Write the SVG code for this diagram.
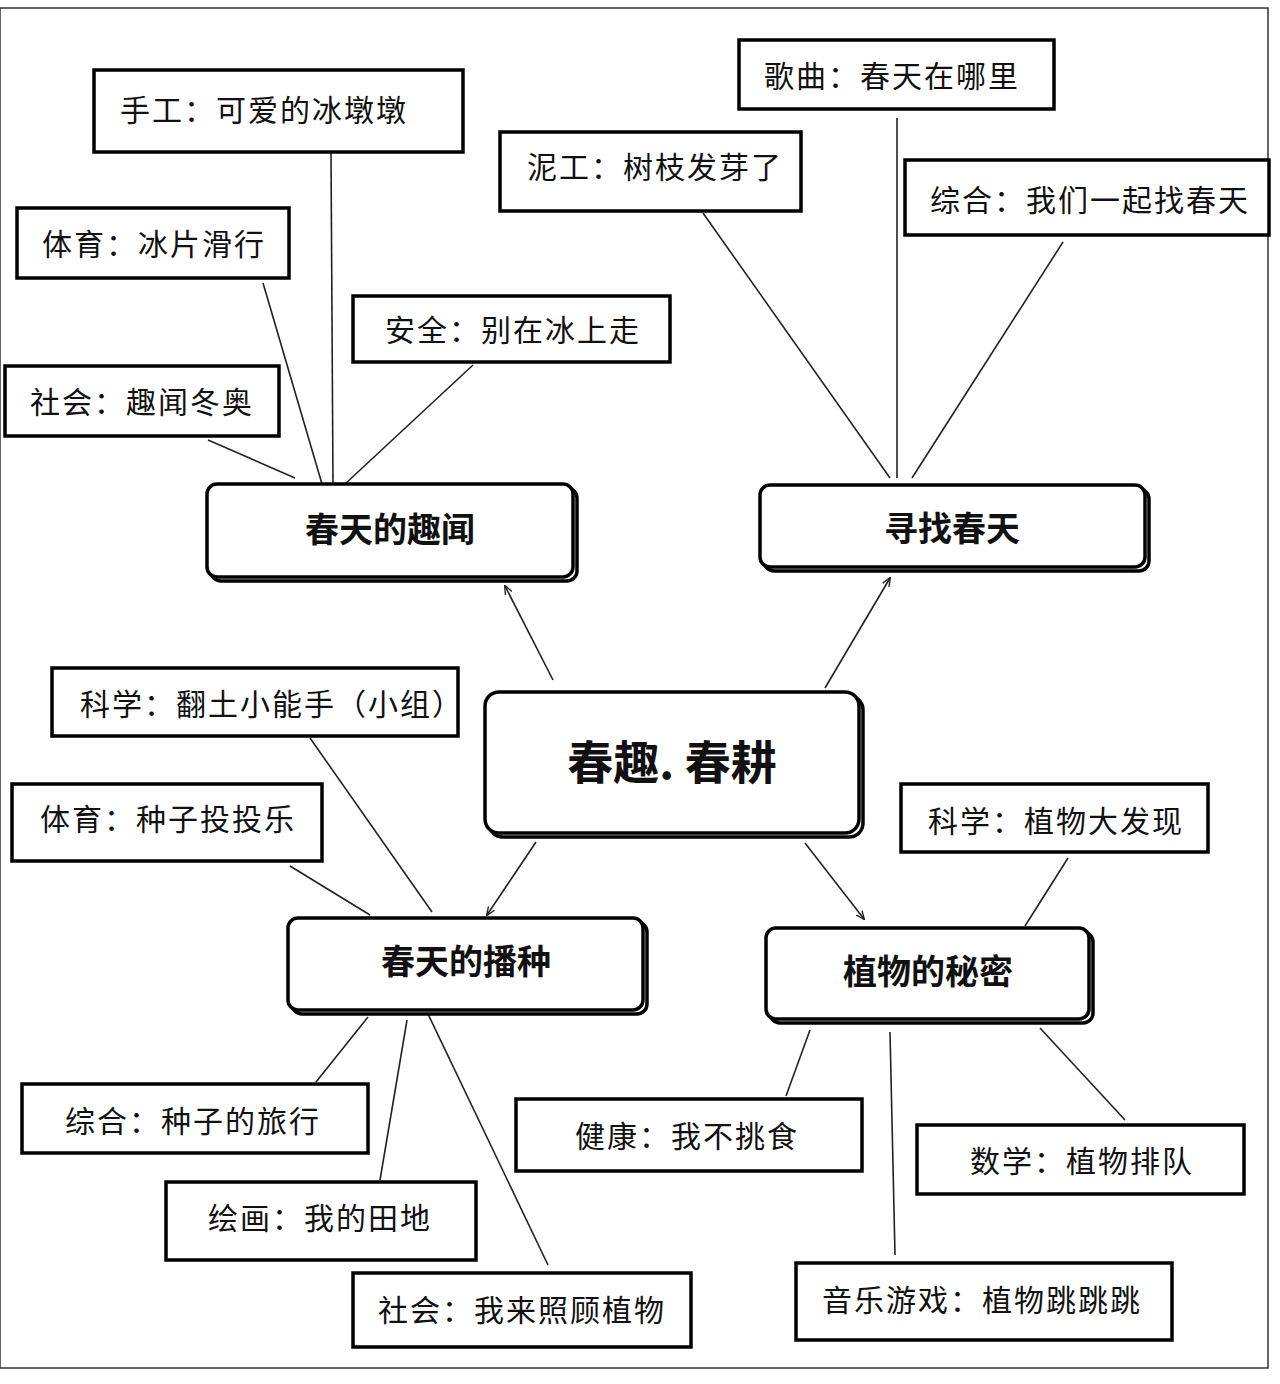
<svg xmlns="http://www.w3.org/2000/svg" width="1280" height="1384" viewBox="0 0 1280 1384">
<defs>
<style>
.leaf rect{fill:#fff;stroke:#000;stroke-width:3.5}
.mid rect{fill:#fff;stroke:#000;stroke-width:3.5}
.sh{fill:#999;stroke:none}
text{font-family:"Noto Sans CJK SC","Noto Sans",sans-serif;fill:#111}
.lt{font-size:30px;letter-spacing:2px}
.mt{font-size:34px;font-weight:bold}
.ct{font-size:46px;font-weight:bold}
#conn line{stroke:#222;stroke-width:1.6}
</style>
<marker id="ar" viewBox="0 0 10 10" refX="9" refY="5" markerWidth="9" markerHeight="9" orient="auto" markerUnits="userSpaceOnUse"><path d="M0,1 L10,5 L0,9" fill="none" stroke="#222" stroke-width="1.5"/></marker>
</defs>
<rect width="1280" height="1384" fill="#fff"/>
<rect x="0" y="8" width="1268" height="1360" fill="none" stroke="#333" stroke-width="1.5"/>
<g id="conn">
<line x1="331" y1="153" x2="333" y2="484"/>
<line x1="263" y1="283" x2="322" y2="484"/>
<line x1="473" y1="365" x2="345" y2="484"/>
<line x1="208" y1="440" x2="295" y2="478"/>
<line x1="897" y1="118" x2="897" y2="478"/>
<line x1="703" y1="213" x2="890" y2="478"/>
<line x1="1063" y1="242" x2="912" y2="478"/>
<line x1="553" y1="680" x2="505" y2="586" marker-end="url(#ar)"/>
<line x1="825" y1="688" x2="890" y2="578" marker-end="url(#ar)"/>
<line x1="536" y1="842" x2="487" y2="915" marker-end="url(#ar)"/>
<line x1="805" y1="843" x2="864" y2="919" marker-end="url(#ar)"/>
<line x1="310" y1="738" x2="432" y2="912"/>
<line x1="290" y1="866" x2="370" y2="915"/>
<line x1="368" y1="1017" x2="316" y2="1082"/>
<line x1="407" y1="1020" x2="380" y2="1180"/>
<line x1="428" y1="1014" x2="548" y2="1265"/>
<line x1="1068" y1="858" x2="1025" y2="926"/>
<line x1="810" y1="1030" x2="786" y2="1096"/>
<line x1="890" y1="1032" x2="895" y2="1255"/>
<line x1="1040" y1="1028" x2="1125" y2="1120"/>
</g>
<g id="n1" class="leaf"><rect x="94" y="70" width="369" height="82"/><text class="lt" x="120" y="121">手工：可爱的冰墩墩</text></g>
<g id="n2" class="leaf"><rect x="17" y="208" width="272" height="70"/><text class="lt" x="42" y="255">体育：冰片滑行</text></g>
<g id="n3" class="leaf"><rect x="353" y="296" width="317" height="66"/><text class="lt" x="385" y="341">安全：别在冰上走</text></g>
<g id="n4" class="leaf"><rect x="5" y="366" width="274" height="70"/><text class="lt" x="30" y="413">社会：趣闻冬奥</text></g>
<g id="n5" class="leaf"><rect x="739" y="40" width="315" height="69"/><text class="lt" x="764" y="87">歌曲：春天在哪里</text></g>
<g id="n6" class="leaf"><rect x="500" y="132" width="301" height="79"/><text class="lt" x="527" y="178">泥工：树枝发芽了</text></g>
<g id="n7" class="leaf"><rect x="905" y="160" width="364" height="75"/><text class="lt" x="930" y="211">综合：我们一起找春天</text></g>
<g id="n8" class="leaf"><rect x="52" y="668" width="406" height="68"/><text class="lt" x="80" y="715">科学：翻土小能手（小组）</text></g>
<g id="n9" class="leaf"><rect x="12" y="784" width="310" height="77"/><text class="lt" x="40" y="830">体育：种子投投乐</text></g>
<g id="n10" class="leaf"><rect x="901" y="784" width="307" height="68"/><text class="lt" x="928" y="832">科学：植物大发现</text></g>
<g id="n11" class="leaf"><rect x="22" y="1084" width="346" height="69"/><text class="lt" x="65" y="1132">综合：种子的旅行</text></g>
<g id="n12" class="leaf"><rect x="166" y="1182" width="310" height="78"/><text class="lt" x="208" y="1229">绘画：我的田地</text></g>
<g id="n13" class="leaf"><rect x="353" y="1273" width="338" height="74"/><text class="lt" x="378" y="1321">社会：我来照顾植物</text></g>
<g id="n14" class="leaf"><rect x="516" y="1099" width="346" height="72"/><text class="lt" x="575" y="1147">健康：我不挑食</text></g>
<g id="n15" class="leaf"><rect x="917" y="1125" width="327" height="69"/><text class="lt" x="970" y="1172">数学：植物排队</text></g>
<g id="n16" class="leaf"><rect x="796" y="1263" width="376" height="77"/><text class="lt" x="822" y="1311">音乐游戏：植物跳跳跳</text></g>
<g id="m1" class="mid"><rect class="sh" x="211" y="488" width="366" height="93" rx="10"/><rect x="207" y="484" width="366" height="93" rx="10"/><text class="mt" x="390" y="542" text-anchor="middle">春天的趣闻</text></g>
<g id="m2" class="mid"><rect class="sh" x="764" y="489" width="385" height="82" rx="10"/><rect x="760" y="485" width="385" height="82" rx="10"/><text class="mt" x="952" y="541" text-anchor="middle">寻找春天</text></g>
<g id="m3" class="mid"><rect class="sh" x="292" y="922" width="355" height="92" rx="10"/><rect x="288" y="918" width="355" height="92" rx="10"/><text class="mt" x="466" y="974" text-anchor="middle">春天的播种</text></g>
<g id="m4" class="mid"><rect class="sh" x="770" y="932" width="323" height="91" rx="10"/><rect x="766" y="928" width="323" height="91" rx="10"/><text class="mt" x="928" y="984" text-anchor="middle">植物的秘密</text></g>
<g id="c" class="mid"><rect class="sh" x="489" y="696" width="374" height="141" rx="14"/><rect x="485" y="692" width="374" height="141" rx="14"/><text class="ct" x="672" y="779" text-anchor="middle">春趣. 春耕</text></g>
</svg>
